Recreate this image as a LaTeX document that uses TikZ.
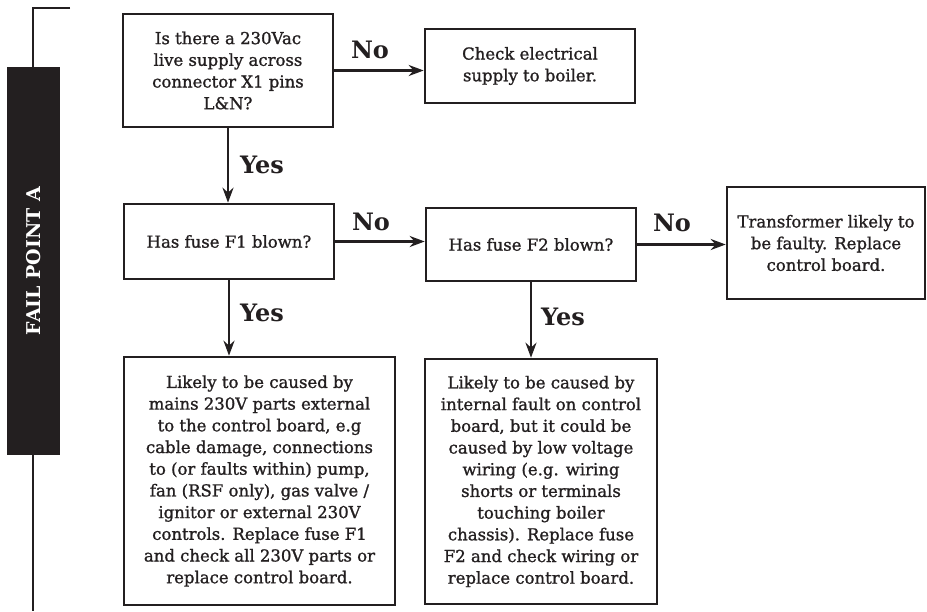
\documentclass[tikz,border=0pt]{standalone}
\usepackage{fontspec}
\setmainfont{DejaVu Serif}
\newfontfamily\bodyfnt[FakeBold=1.2]{DejaVu Serif}
\usetikzlibrary{arrows.meta}
\definecolor{ink}{HTML}{231F20}
\begin{document}
\begin{tikzpicture}[x=1pt,y=-1pt,
  box/.style={draw=ink,line width=2.6pt,align=center,text=ink,inner sep=2pt,
    font=\bodyfnt\fontsize{16.5}{21.7}\selectfont},
  lbl/.style={text=ink,font=\bfseries\fontsize{24}{26}\selectfont,inner sep=0pt},
  conn/.style={draw=ink,line width=2.4pt,-{Stealth[length=15pt,width=11pt]}},
  bar/.style={draw=ink,line width=2.2pt}]
\useasboundingbox (0,0) rectangle (927,611);
% side bracket
\coordinate (bt) at (70,8);
\coordinate (bc) at (33,8);
\coordinate (bb) at (33,611);
\draw[bar] (bt) -- (bc) -- (bb);
\node[fill=ink,minimum width=388pt,minimum height=53pt,inner sep=0pt,
  text=white,font=\bfseries\fontsize{19}{20}\selectfont,rotate=90] (fp) at (33.5,261) {FAIL POINT A};
% boxes
\node[box,minimum width=210pt,minimum height=113pt] (q1) at (228,70.5)
  {Is there a 230Vac\\live supply across\\connector X1 pins\\L\&N?};
\node[box,minimum width=210pt,minimum height=74pt] (chk) at (530,66)
  {Check electrical\\supply to boiler.};
\node[box,minimum width=210pt,minimum height=75pt] (f1) at (229,241.5)
  {Has fuse F1 blown?};
\node[box,minimum width=210pt,minimum height=73pt] (f2) at (531,244.5)
  {Has fuse F2 blown?};
\node[box,minimum width=198pt,minimum height=112pt] (tr) at (826,243)
  {Transformer likely to\\be faulty. Replace\\control board.};
\node[box,minimum width=271pt,minimum height=248pt] (l1) at (259.5,481)
  {Likely to be caused by\\mains 230V parts external\\to the control board, e.g\\cable damage, connections\\to (or faults within) pump,\\fan (RSF only), gas valve /\\ignitor or external 230V\\controls. Replace fuse F1\\and check all 230V parts or\\replace control board.};
\node[box,minimum width=232pt,minimum height=245pt] (l2) at (541,481.5)
  {Likely to be caused by\\internal fault on control\\board, but it could be\\caused by low voltage\\wiring (e.g. wiring\\shorts or terminals\\touching boiler\\chassis). Replace fuse\\F2 and check wiring or\\replace control board.};
% connectors
\draw[conn] (q1.east) -- (q1.east -| chk.west);
\draw[conn] (q1.south) -- (q1.south |- f1.north);
\draw[conn] (f1.east) -- (f1.east -| f2.west);
\draw[conn] (f2.east) -- (f2.east -| tr.west);
\draw[conn] (f1.south) -- (f1.south |- l1.north);
\draw[conn] (f2.south) -- (f2.south |- l2.north);
% labels
\node[lbl] (n1) at (370,50) {No};
\node[lbl] (y1) at (262,165) {Yes};
\node[lbl] (n2) at (371,222) {No};
\node[lbl] (y2) at (262,313) {Yes};
\node[lbl] (n3) at (672,223) {No};
\node[lbl] (y3) at (563,317) {Yes};
\end{tikzpicture}
\end{document}
